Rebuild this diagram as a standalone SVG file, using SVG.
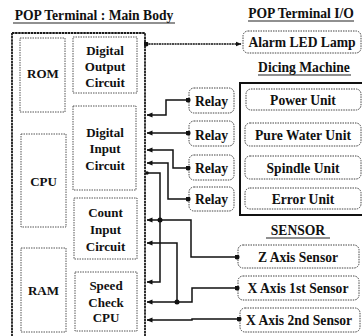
<svg xmlns="http://www.w3.org/2000/svg" width="362" height="336" viewBox="0 0 362 336" font-family="'Liberation Serif', 'Times New Roman', 'DejaVu Serif', serif">
<defs>
<style>
text{font-family:"Liberation Serif","Times New Roman","DejaVu Serif",serif;font-weight:bold;fill:#111;text-anchor:middle}
.t13{font-size:13px}
.t14{font-size:13.6px}
.outer{fill:none;stroke:#1a1a1a;stroke-width:1.8;stroke-dasharray:2.5 0.6}
.inner{fill:#fff;stroke:#555;stroke-width:1;stroke-dasharray:1.5 1}
.rbox{fill:#fff;stroke:#444;stroke-width:1;stroke-dasharray:1.5 1}
.solid{fill:none;stroke:#111;stroke-width:2}
.ul{stroke:#222;stroke-width:1.2}
.wire{fill:none;stroke:#111;stroke-width:1.5}
</style>
<marker id="arr" viewBox="0 0 6 6" refX="5.5" refY="3" markerWidth="6" markerHeight="6" markerUnits="userSpaceOnUse" orient="auto">
<path d="M0,0.5 L6,3 L0,5.5 z" fill="#111"/>
</marker>
<marker id="dot" viewBox="0 0 6 6" refX="3" refY="3" markerWidth="5" markerHeight="5" markerUnits="userSpaceOnUse">
<circle cx="3" cy="3" r="3" fill="#111"/>
</marker>
</defs>

<g id="headings" font-family="Liberation Serif, serif">
<text class="t14" x="94" y="20">POP Terminal : Main Body</text>
<line class="ul" x1="13" y1="23" x2="175" y2="23"/>
<text class="t14" x="301" y="18">POP Terminal I/O</text>
<line class="ul" x1="248" y1="21" x2="354" y2="21"/>
<text class="t14" x="304" y="72">Dicing Machine</text>
<line class="ul" x1="258" y1="75" x2="351" y2="75"/>
<text class="t14" x="298" y="235">SENSOR</text>
<line class="ul" x1="266" y1="238" x2="330" y2="238"/>
</g>

<g id="main-body">
<rect class="outer" x="12" y="33" width="133" height="310"/>
</g>
<g id="rom"><rect class="inner" x="20" y="38" width="45" height="74"/><text class="t13" x="43" y="78">ROM</text></g>
<g id="cpu"><rect class="inner" x="21" y="134" width="45" height="93"/><text class="t13" x="43.5" y="186">CPU</text></g>
<g id="ram"><rect class="inner" x="21" y="248" width="45" height="84"/><text class="t13" x="43.5" y="295">RAM</text></g>
<g id="digital-output"><rect class="inner" x="73" y="37" width="64" height="56"/>
<text class="t13" x="105" y="55">Digital</text><text class="t13" x="105" y="71">Output</text><text class="t13" x="105" y="87">Circuit</text></g>
<g id="digital-input"><rect class="inner" x="73" y="106" width="63" height="84"/>
<text class="t13" x="105" y="137">Digital</text><text class="t13" x="105" y="153">Input</text><text class="t13" x="105" y="170">Circuit</text></g>
<g id="count-input"><rect class="inner" x="74" y="198" width="63" height="61"/>
<text class="t13" x="105.5" y="217">Count</text><text class="t13" x="105.5" y="234">Input</text><text class="t13" x="105.5" y="251">Circuit</text></g>
<g id="speed-check"><rect class="inner" x="75" y="272" width="62" height="59"/>
<text class="t13" x="106" y="290">Speed</text><text class="t13" x="106" y="307">Check</text><text class="t13" x="106" y="322">CPU</text></g>

<g id="alarm"><rect class="rbox" x="243" y="31" width="118" height="22" rx="5"/><text class="t14" x="302" y="47">Alarm LED Lamp</text></g>

<g id="dicing-machine"><path class="solid" d="M366,83 H240 V215 H366"/></g>
<g id="power-unit"><rect class="rbox" x="246" y="89" width="115" height="21" rx="5"/><text class="t14" x="303" y="105">Power Unit</text></g>
<g id="pure-water-unit"><rect class="rbox" x="245" y="123" width="116" height="23" rx="5"/><text class="t14" x="303" y="140">Pure Water Unit</text></g>
<g id="spindle-unit"><rect class="rbox" x="245" y="156" width="116" height="23" rx="5"/><text class="t14" x="303" y="173">Spindle Unit</text></g>
<g id="error-unit"><rect class="rbox" x="245" y="188" width="116" height="21" rx="5"/><text class="t14" x="303" y="204">Error Unit</text></g>

<g id="relay1"><rect class="rbox" x="189" y="88" width="45" height="25" rx="5"/><text class="t14" x="211.5" y="106">Relay</text></g>
<g id="relay2"><rect class="rbox" x="189" y="121" width="45" height="25" rx="5"/><text class="t14" x="211.5" y="140">Relay</text></g>
<g id="relay3"><rect class="rbox" x="189" y="155" width="45" height="25" rx="5"/><text class="t14" x="211.5" y="173">Relay</text></g>
<g id="relay4"><rect class="rbox" x="189" y="187" width="45" height="24" rx="5"/><text class="t14" x="211.5" y="204">Relay</text></g>

<g id="z-axis"><rect class="rbox" x="238" y="245" width="121" height="23" rx="5"/><text class="t14" x="298" y="262">Z Axis Sensor</text></g>
<g id="x-axis-1st"><rect class="rbox" x="238" y="276" width="121" height="24" rx="5"/><text class="t14" x="298" y="293">X Axis 1st Sensor</text></g>
<g id="x-axis-2nd"><rect class="rbox" x="240" y="308" width="120" height="24" rx="5"/><text class="t14" x="299" y="325">X Axis 2nd Sensor</text></g>

<g id="connectors">
<path class="wire" d="M146,44 H241" marker-start="url(#dot)" marker-end="url(#arr)" stroke-dasharray="2 0.6"/>
<path class="wire" d="M188,100 H166 V115 H147" marker-start="url(#dot)" marker-end="url(#arr)"/>
<path class="wire" d="M188,133 H147" marker-start="url(#dot)" marker-end="url(#arr)"/>
<path class="wire" d="M188,168 H173 V150 H147" marker-start="url(#dot)" marker-end="url(#arr)"/>
<path class="wire" d="M188,199 H168 V163 H147" marker-start="url(#dot)" marker-end="url(#arr)"/>
<path class="wire" d="M147,173 H160 V282 H147" marker-end="url(#arr)"/>
<path class="wire" d="M237,257 H191 V220 H147" marker-start="url(#dot)" marker-end="url(#arr)"/>
<path class="wire" d="M237,288 H192 V302 H147" marker-start="url(#dot)" marker-end="url(#arr)"/>
<path class="wire" d="M177,302 V243 H147" marker-end="url(#arr)"/>
<path class="wire" d="M239,319 H192 V320 H147" marker-start="url(#dot)" marker-end="url(#arr)"/>
<circle cx="160" cy="220" r="2.5" fill="#111"/>
<circle cx="177" cy="302" r="2.5" fill="#111"/>
<circle cx="147" cy="173" r="1.8" fill="#111"/>
</g>
</svg>
